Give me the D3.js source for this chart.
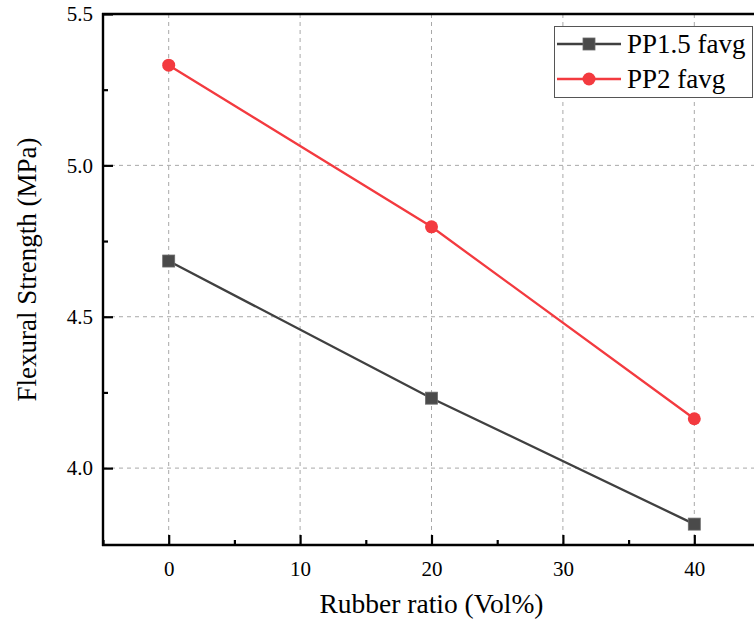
<!DOCTYPE html>
<html>
<head>
<meta charset="utf-8">
<script src="https://cdn.jsdelivr.net/npm/d3@7"></script>
<style>
  html, body { margin: 0; padding: 0; background: #fff; }
  svg { display: block; }
  text { font-family: 'Liberation Serif', 'Times New Roman', serif; fill: #000; }
</style>
</head>
<body>
<svg id="chart" width="754" height="628"></svg>
<script>
// ---- data ----
const xValues = [0, 20, 40];
const pp15Values = [4.684, 4.231, 3.815];
const pp2Values = [5.331, 4.797, 4.163];
const seriesNames = ["PP1.5 favg", "PP2 favg"];
const xTicks = [0, 10, 20, 30, 40];
const xMinorTicks = [-5, 5, 15, 25, 35, 45];
const yTicks = [4.0, 4.5, 5.0, 5.5];
const yMinorTicks = [4.25, 4.75, 5.25];
const xTitle = "Rubber ratio (Vol%)";
const yTitle = "Flexural Strength (MPa)";

const FONT = "'Liberation Serif', 'Times New Roman', serif";
const svg = d3.select("#chart");
const L = 103, T = 14, R = 760, B = 545;

const x = d3.scaleLinear().domain([-5, 45]).range([L, R]);
const y = d3.scaleLinear().domain([3.746, 5.5]).range([B, T]);

const red = "#f33a3f";
const gray = "#404040";

// grid
const grid = svg.append("g");
grid.selectAll("line.vg").data(xTicks).join("line")
  .attr("x1", d => x(d)).attr("x2", d => x(d))
  .attr("y1", T).attr("y2", B)
  .attr("stroke", "#a8a8a8").attr("stroke-width", 1).attr("stroke-dasharray", "4,4");
grid.selectAll("line.hg").data(yTicks.filter(d => d < 5.5)).join("line")
  .attr("x1", L).attr("x2", R)
  .attr("y1", d => y(d)).attr("y2", d => y(d))
  .attr("stroke", "#a8a8a8").attr("stroke-width", 1).attr("stroke-dasharray", "4,4");

// axes
const xAxis = d3.axisBottom(x).tickValues(xTicks).tickSize(-10).tickPadding(18).tickFormat(d3.format("d"));
const xMinor = d3.axisBottom(x).tickValues(xMinorTicks).tickSize(-5).tickFormat("");
const yAxis = d3.axisLeft(y).tickValues(yTicks).tickSize(-10).tickPadding(10).tickFormat(d3.format(".1f"));
const yMinor = d3.axisLeft(y).tickValues(yMinorTicks).tickSize(-5).tickFormat("");

function styleAxis(g) {
  g.attr("font-family", FONT).attr("font-size", 21);
  g.select(".domain").remove();
  g.selectAll(".tick line").attr("stroke", "#000").attr("stroke-width", 2.2);
  g.selectAll(".tick text").style("font-size", "21px").style("font-family", FONT).attr("fill", "#000");
}
svg.append("g").attr("transform", `translate(0,${B})`).call(xAxis).call(styleAxis)
  .selectAll(".tick text").attr("dy", "0.71em").attr("y", 16);
svg.append("g").attr("transform", `translate(0,${B})`).call(xMinor).call(styleAxis);
svg.append("g").attr("transform", `translate(${L},0)`).call(yAxis).call(styleAxis);
svg.append("g").attr("transform", `translate(${L},0)`).call(yMinor).call(styleAxis);

// frame lines
svg.append("line").attr("x1", L).attr("x2", L).attr("y1", T - 1).attr("y2", B + 1).attr("stroke", "#000").attr("stroke-width", 2.4);
svg.append("line").attr("x1", L - 1).attr("x2", R).attr("y1", B).attr("y2", B).attr("stroke", "#000").attr("stroke-width", 2.4);
svg.append("line").attr("x1", L - 1).attr("x2", R).attr("y1", T).attr("y2", T).attr("stroke", "#000").attr("stroke-width", 2.4);

// lines
const line = d3.line().x(d => x(d[0])).y(d => y(d[1]));
const pp15 = xValues.map((v, i) => [v, pp15Values[i]]);
const pp2 = xValues.map((v, i) => [v, pp2Values[i]]);

svg.append("path").datum(pp15).attr("d", line).attr("fill", "none").attr("stroke", gray).attr("stroke-width", 2.3);
svg.append("path").datum(pp2).attr("d", line).attr("fill", "none").attr("stroke", red).attr("stroke-width", 2.3);

svg.selectAll("rect.m15").data(pp15).join("rect")
  .attr("x", d => x(d[0]) - 6).attr("y", d => y(d[1]) - 6)
  .attr("width", 12).attr("height", 12)
  .attr("fill", "#4a4a4a").attr("stroke", "#6a6a6a").attr("stroke-width", 0.8);
svg.selectAll("circle.m2").data(pp2).join("circle")
  .attr("cx", d => x(d[0])).attr("cy", d => y(d[1])).attr("r", 6.5)
  .attr("fill", red);

// axis titles
svg.append("text").attr("x", x(20)).attr("y", 613).attr("text-anchor", "middle")
  .style("font-size", "27.5px").style("font-family", FONT).text(xTitle);
svg.append("text").attr("transform", `translate(36,${(T + B) / 2 - 10}) rotate(-90)`)
  .attr("text-anchor", "middle").style("font-size", "27px").style("font-family", FONT).text(yTitle);

// legend
const lg = svg.append("g");
lg.append("rect").attr("x", 554.5).attr("y", 26.5).attr("width", 198).attr("height", 71)
  .attr("fill", "#fff").attr("stroke", "#555").attr("stroke-width", 1);
const rows = [
  { name: seriesNames[0], color: gray, shape: "square", y: 44 },
  { name: seriesNames[1], color: red, shape: "circle", y: 79 }
];
rows.forEach(r => {
  lg.append("line").attr("x1", 557).attr("x2", 621).attr("y1", r.y).attr("y2", r.y)
    .attr("stroke", r.color).attr("stroke-width", 2.3);
  if (r.shape === "square") {
    lg.append("rect").attr("x", 589 - 6).attr("y", r.y - 6).attr("width", 12).attr("height", 12)
      .attr("fill", "#4a4a4a").attr("stroke", "#6a6a6a").attr("stroke-width", 0.8);
  } else {
    lg.append("circle").attr("cx", 589).attr("cy", r.y).attr("r", 6.5).attr("fill", red);
  }
  lg.append("text").attr("x", 627).attr("y", r.y + 9).style("font-size", "27px").style("font-family", FONT).text(r.name);
});
</script>
</body>
</html>
